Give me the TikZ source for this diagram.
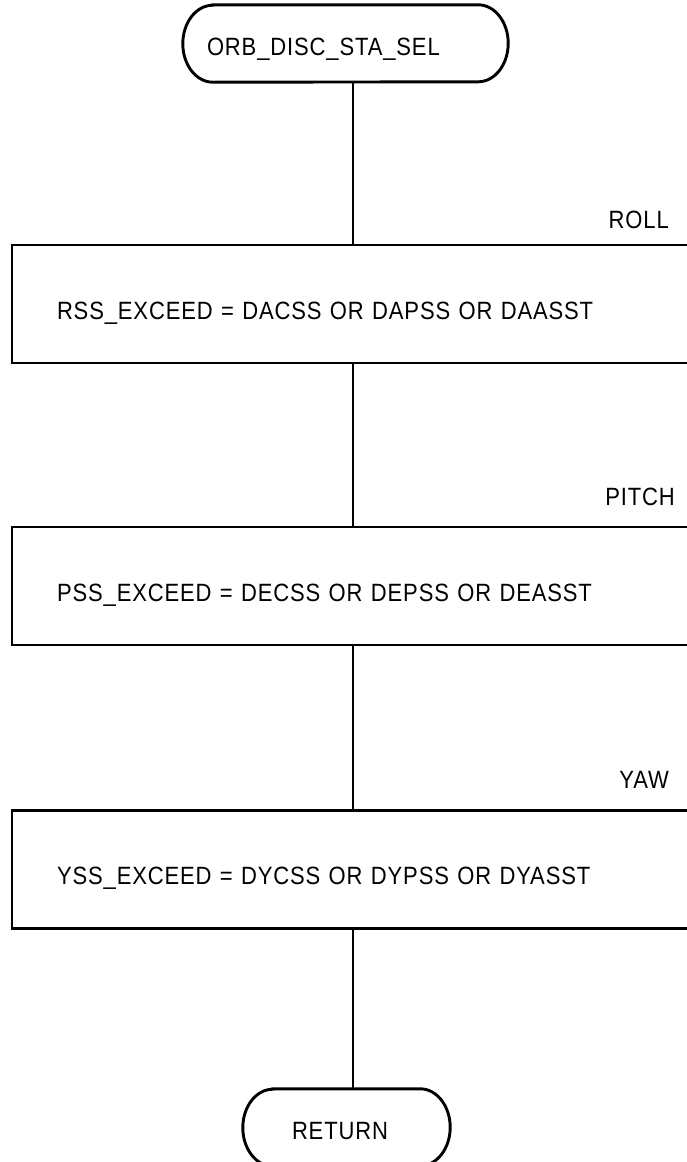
\documentclass[tikz,border=0pt]{standalone}
\usepackage{fontspec}
\setmainfont{Liberation Sans}[FakeStretch=0.88, LetterSpace=3.5]
\begin{document}
\begin{tikzpicture}[x=1pt,y=-1pt,
  every node/.style={font=\fontsize{25}{30}\selectfont},
  flow/.style={line width=2.9pt, line cap=rect},
  term/.style={rectangle, minimum height=77pt, inner ysep=0pt, text height=30pt, text depth=6pt},
  procbox/.style={rectangle, draw, line width=2.9pt, minimum width=688pt, minimum height=118pt,
    inner xsep=45pt, text width=598pt, align=left, text height=36pt, text depth=6pt},
  axislabel/.style={anchor=east, inner sep=0pt},
  link/.style={line width=2.9pt}
]
\useasboundingbox (0,0) rectangle (686,1162);
\coordinate (spine) at (353,0);

% start terminal
\node[term, minimum width=325pt, inner xsep=24pt, text width=277pt, align=left] (orb) at (345.5,43.5) {ORB\_DISC\_STA\_SEL};
\draw[flow] ([xshift=30pt]orb.north west) -- ([xshift=-30pt]orb.north east)
  arc[start angle=90, end angle=-90, x radius=30pt, y radius=38.5pt]
  -- ([xshift=30pt]orb.south west)
  arc[start angle=270, end angle=90, x radius=30pt, y radius=38.5pt] -- cycle;

% process boxes
\node[procbox] (b1) at (356,304) {RSS\_EXCEED = DACSS OR DAPSS OR DAASST};
\node[procbox] (b2) at (356,586) {PSS\_EXCEED = DECSS OR DEPSS OR DEASST};
\node[procbox] (b3) at (356,869.5) {YSS\_EXCEED = DYCSS OR DYPSS OR DYASST};

% labels
\node[axislabel] (roll) at (669,220) {ROLL};
\node[axislabel] (pitch) at (675,497) {PITCH};
\node[axislabel] (yaw) at (669,780) {YAW};

% end terminal
\node[term, minimum width=207pt, inner xsep=49pt, text width=109pt, align=left] (ret) at (346.5,1127.5) {RETURN};
\draw[flow] ([xshift=30pt]ret.north west) -- ([xshift=-30pt]ret.north east)
  arc[start angle=90, end angle=-90, x radius=30pt, y radius=38.5pt]
  -- ([xshift=30pt]ret.south west)
  arc[start angle=270, end angle=90, x radius=30pt, y radius=38.5pt] -- cycle;

% connectors
\draw[link] (orb.south -| spine) -- (b1.north -| spine);
\draw[link] (b1.south -| spine) -- (b2.north -| spine);
\draw[link] (b2.south -| spine) -- (b3.north -| spine);
\draw[link] (b3.south -| spine) -- (ret.north -| spine);
\end{tikzpicture}
\end{document}
